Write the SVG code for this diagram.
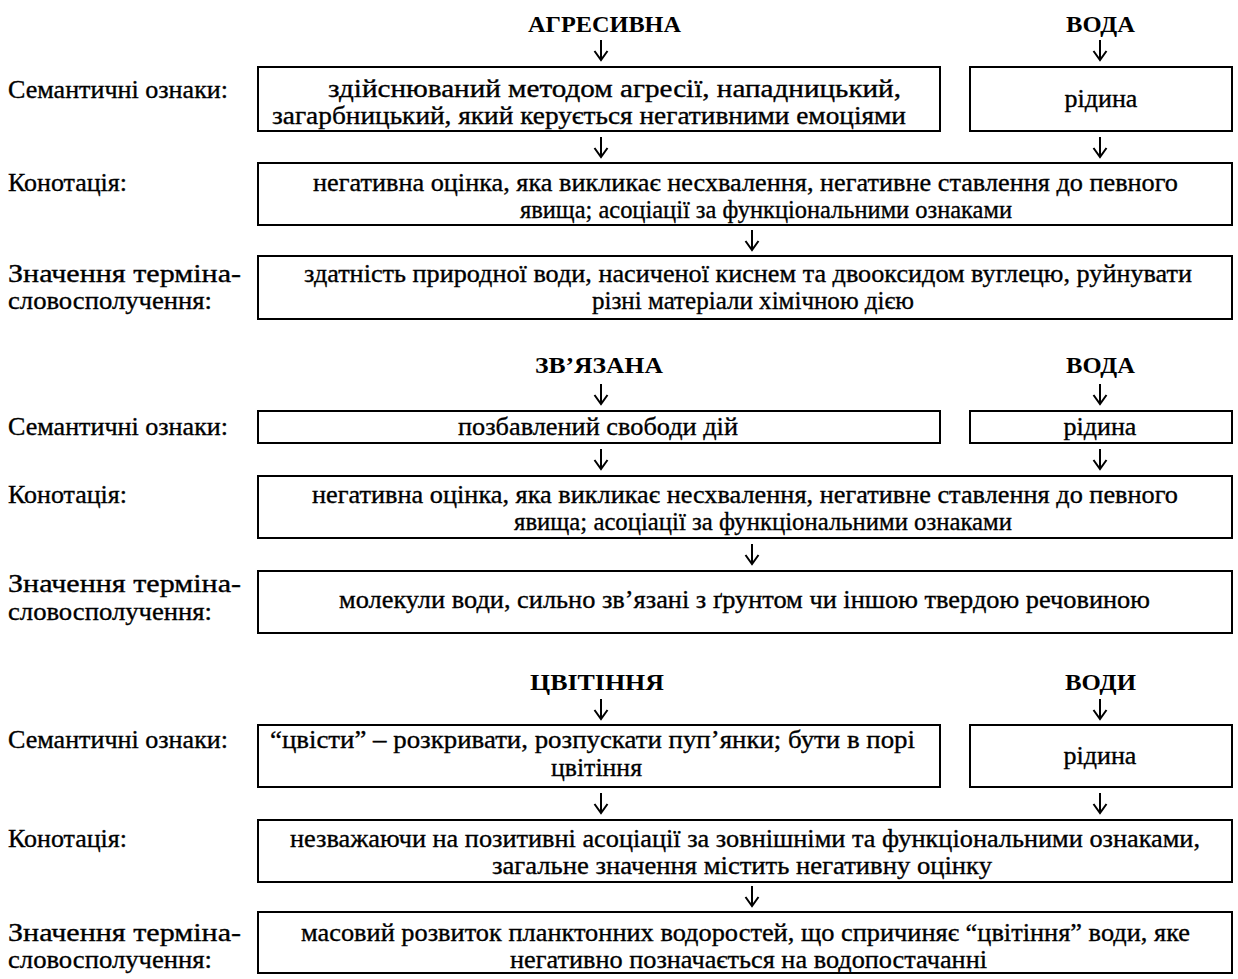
<svg xmlns="http://www.w3.org/2000/svg" width="1238" height="979" viewBox="0 0 1238 979">
<defs>
<marker id="ah" viewBox="-11 -8 13 16" refX="0" refY="0" markerWidth="13" markerHeight="16" markerUnits="userSpaceOnUse" orient="auto">
<path d="M-9,-6.5 L0,0 L-9,6.5" fill="none" stroke="#000" stroke-width="2"/>
</marker>
<style>
.bx{fill:#fff;stroke:#000;stroke-width:2}
.t{font-family:"Liberation Serif","Times New Roman",serif;font-size:26px;fill:#000;stroke:#000;stroke-width:0.35}
.h{font-family:"Liberation Serif","Times New Roman",serif;font-size:24px;font-weight:bold;fill:#000}
.c{text-anchor:middle}
.ar{stroke:#000;stroke-width:2;fill:none;marker-end:url(#ah)}
</style>
</defs>
<rect width="1238" height="979" fill="#fff"/>

<g id="labels">
<text class="t" x="8" y="98" textLength="220" lengthAdjust="spacingAndGlyphs">Семантичні ознаки:</text>
<text class="t" x="8" y="191" textLength="119" lengthAdjust="spacingAndGlyphs">Конотація:</text>
<text class="t" x="8" y="282" textLength="233" lengthAdjust="spacingAndGlyphs">Значення терміна-</text>
<text class="t" x="8" y="309" textLength="204" lengthAdjust="spacingAndGlyphs">словосполучення:</text>

<text class="t" x="8" y="435" textLength="220" lengthAdjust="spacingAndGlyphs">Семантичні ознаки:</text>
<text class="t" x="8" y="503" textLength="119" lengthAdjust="spacingAndGlyphs">Конотація:</text>
<text class="t" x="8" y="592" textLength="233" lengthAdjust="spacingAndGlyphs">Значення терміна-</text>
<text class="t" x="8" y="620" textLength="204" lengthAdjust="spacingAndGlyphs">словосполучення:</text>

<text class="t" x="8" y="748" textLength="220" lengthAdjust="spacingAndGlyphs">Семантичні ознаки:</text>
<text class="t" x="8" y="847" textLength="119" lengthAdjust="spacingAndGlyphs">Конотація:</text>
<text class="t" x="8" y="941" textLength="233" lengthAdjust="spacingAndGlyphs">Значення терміна-</text>
<text class="t" x="8" y="968" textLength="204" lengthAdjust="spacingAndGlyphs">словосполучення:</text>
</g>

<g id="head-agresyvna"><text class="h" x="528" y="32" textLength="153" lengthAdjust="spacingAndGlyphs">АГРЕСИВНА</text></g>
<g id="head-voda1"><text class="h" x="1066" y="32" textLength="69" lengthAdjust="spacingAndGlyphs">ВОДА</text></g>

<g id="s1-sem-a">
<rect class="bx" x="258" y="67" width="682" height="64"/>
<text class="t" x="328" y="97" textLength="573" lengthAdjust="spacingAndGlyphs">здійснюваний методом агресії, нападницький,</text>
<text class="t" x="272" y="124" textLength="634" lengthAdjust="spacingAndGlyphs">загарбницький, який керується негативними емоціями</text>
</g>
<g id="s1-sem-b">
<rect class="bx" x="970" y="67" width="262" height="64"/>
<text class="t c" x="1101" y="107">рідина</text>
</g>
<g id="s1-kon">
<rect class="bx" x="258" y="163" width="974" height="62"/>
<text class="t" x="313" y="191" textLength="865" lengthAdjust="spacingAndGlyphs">негативна оцінка, яка викликає несхвалення, негативне ставлення до певного</text>
<text class="t" x="520" y="218" textLength="492" lengthAdjust="spacingAndGlyphs">явища; асоціації за функціональними ознаками</text>
</g>
<g id="s1-zn">
<rect class="bx" x="258" y="256" width="974" height="63"/>
<text class="t" x="304" y="282" textLength="888" lengthAdjust="spacingAndGlyphs">здатність природної води, насиченої киснем та двооксидом вуглецю, руйнувати</text>
<text class="t" x="592" y="309" textLength="322" lengthAdjust="spacingAndGlyphs">різні матеріали хімічною дією</text>
</g>

<g id="head-zviazana"><text class="h" x="535" y="373" textLength="128" lengthAdjust="spacingAndGlyphs">ЗВ’ЯЗАНА</text></g>
<g id="head-voda2"><text class="h" x="1066" y="373" textLength="69" lengthAdjust="spacingAndGlyphs">ВОДА</text></g>

<g id="s2-sem-a">
<rect class="bx" x="258" y="411" width="682" height="32"/>
<text class="t" x="458" y="435" textLength="280" lengthAdjust="spacingAndGlyphs">позбавлений свободи дій</text>
</g>
<g id="s2-sem-b">
<rect class="bx" x="970" y="411" width="262" height="32"/>
<text class="t c" x="1100" y="435">рідина</text>
</g>
<g id="s2-kon">
<rect class="bx" x="258" y="476" width="974" height="62"/>
<text class="t" x="312" y="503" textLength="866" lengthAdjust="spacingAndGlyphs">негативна оцінка, яка викликає несхвалення, негативне ставлення до певного</text>
<text class="t" x="514" y="530" textLength="498" lengthAdjust="spacingAndGlyphs">явища; асоціації за функціональними ознаками</text>
</g>
<g id="s2-zn">
<rect class="bx" x="258" y="571" width="974" height="62"/>
<text class="t" x="339" y="608" textLength="811" lengthAdjust="spacingAndGlyphs">молекули води, сильно зв’язані з ґрунтом чи іншою твердою речовиною</text>
</g>

<g id="head-tsvitinnia"><text class="h" x="530" y="690" textLength="134" lengthAdjust="spacingAndGlyphs">ЦВІТІННЯ</text></g>
<g id="head-vody"><text class="h" x="1065" y="690" textLength="71" lengthAdjust="spacingAndGlyphs">ВОДИ</text></g>

<g id="s3-sem-a">
<rect class="bx" x="258" y="725" width="682" height="62"/>
<text class="t" x="270" y="748" textLength="645" lengthAdjust="spacingAndGlyphs">“цвісти” – розкривати, розпускати пуп’янки; бути в порі</text>
<text class="t" x="551" y="776" textLength="91" lengthAdjust="spacingAndGlyphs">цвітіння</text>
</g>
<g id="s3-sem-b">
<rect class="bx" x="970" y="725" width="262" height="62"/>
<text class="t c" x="1100" y="764">рідина</text>
</g>
<g id="s3-kon">
<rect class="bx" x="258" y="820" width="974" height="62"/>
<text class="t" x="290" y="847" textLength="910" lengthAdjust="spacingAndGlyphs">незважаючи на позитивні асоціації за зовнішніми та функціональними ознаками,</text>
<text class="t" x="492" y="874" textLength="500" lengthAdjust="spacingAndGlyphs">загальне значення містить негативну оцінку</text>
</g>
<g id="s3-zn">
<rect class="bx" x="258" y="912" width="974" height="61"/>
<text class="t" x="301" y="941" textLength="889" lengthAdjust="spacingAndGlyphs">масовий розвиток планктонних водоростей, що спричиняє “цвітіння” води, яке</text>
<text class="t" x="510" y="968" textLength="477" lengthAdjust="spacingAndGlyphs">негативно позначається на водопостачанні</text>
</g>

<g id="connectors">
<line class="ar" x1="601" y1="40" x2="601" y2="60"/>
<line class="ar" x1="1100" y1="40" x2="1100" y2="60"/>
<line class="ar" x1="601" y1="137" x2="601" y2="157"/>
<line class="ar" x1="1100" y1="137" x2="1100" y2="157"/>
<line class="ar" x1="752" y1="230" x2="752" y2="250"/>

<line class="ar" x1="601" y1="384" x2="601" y2="404"/>
<line class="ar" x1="1100" y1="384" x2="1100" y2="404"/>
<line class="ar" x1="601" y1="449" x2="601" y2="469"/>
<line class="ar" x1="1100" y1="449" x2="1100" y2="469"/>
<line class="ar" x1="752" y1="544" x2="752" y2="564"/>

<line class="ar" x1="601" y1="699" x2="601" y2="719"/>
<line class="ar" x1="1100" y1="699" x2="1100" y2="719"/>
<line class="ar" x1="601" y1="793" x2="601" y2="813"/>
<line class="ar" x1="1100" y1="793" x2="1100" y2="813"/>
<line class="ar" x1="752" y1="886" x2="752" y2="906"/>
</g>
</svg>
